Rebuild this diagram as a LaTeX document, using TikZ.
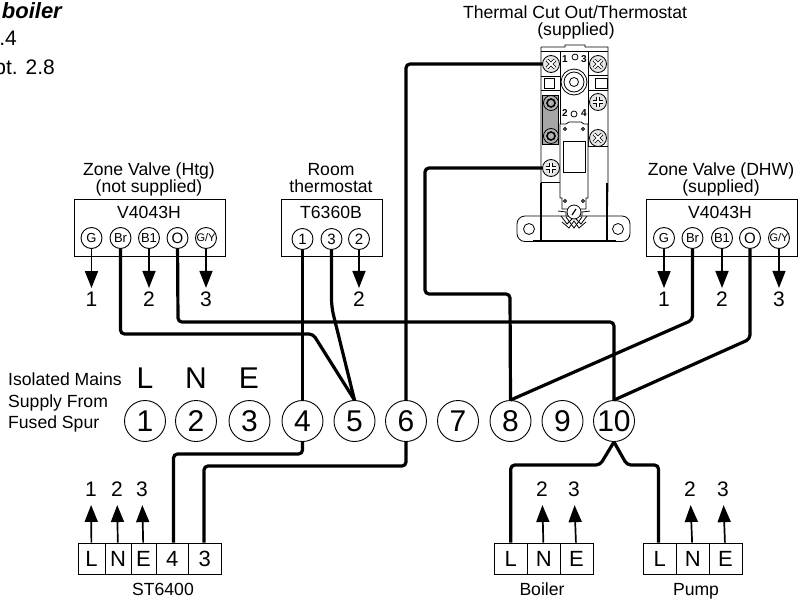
\documentclass[tikz,border=0pt]{standalone}
\usepackage{fontspec}
\setmainfont{Liberation Sans}
\usetikzlibrary{arrows.meta}
\tikzset{
  txt/.style={anchor=base,inner sep=0,font=\fontsize{17.6}{17.6}\selectfont},
  term/.style={circle,draw,line width=0.9,minimum size=41,inner sep=0,font=\fontsize{30}{30}\selectfont},
  pin/.style={circle,draw,fill=white,line width=0.9,minimum size=21,inner sep=0,font=\fontsize{13}{13}\selectfont},
  cell/.style={draw,line width=0.9,minimum height=31,inner sep=0,font=\fontsize{22}{22}\selectfont},
  box/.style={draw,line width=0.9,inner sep=0},
  num/.style={inner sep=3.5,font=\fontsize{21}{21}\selectfont},
  wire/.style={line width=3.2,rounded corners=4},
  lead/.style={line width=1.7,-{Triangle[length=17,width=13]}},
  part/.style={line width=0.8},
  heavy/.style={line width=2},
  screw/.style={circle,draw,fill=black!10,line width=0.8,minimum size=17,inner sep=0},
}
\begin{document}
\begin{tikzpicture}[x=1pt,y=-1pt]
  \useasboundingbox (0,0) rectangle (807,600);
  \node[anchor=base east,inner sep=0,font=\fontsize{22}{22}\selectfont\bfseries\itshape] (titleA) at (62,18) {boiler};
  \node[anchor=base east,inner sep=0,font=\fontsize{21}{21}\selectfont] (titleB) at (17,45) {.4};
  \node[anchor=base east,inner sep=0,font=\fontsize{21}{21}\selectfont] (titleC) at (55,74) {pt. 2.8};

  \node[txt] (cutNameA) at (575,18.5) {Thermal Cut Out/Thermostat};
  \node[txt] (cutNameB) at (576,35) {(supplied)};
  \node[txt] (htgNameA) at (149,175) {Zone Valve (Htg)};
  \node[txt] (htgNameB) at (149,192) {(not supplied)};
  \node[txt] (roomNameA) at (331,175) {Room};
  \node[txt] (roomNameB) at (331,192) {thermostat};
  \node[txt] (dhwNameA) at (721,175) {Zone Valve (DHW)};
  \node[txt] (dhwNameB) at (721,192) {(supplied)};

  \node[box,minimum width=151,minimum height=57] (htgBox) at (149.5,227.5) {};
  \node[box,minimum width=101,minimum height=57] (roomBox) at (331.5,227.5) {};
  \node[box,minimum width=151,minimum height=57] (dhwBox) at (722,227.5) {};
  \node[txt] (htgType) at (149,218) {V4043H};
  \node[txt] (roomType) at (331,218) {T6360B};
  \node[txt] (dhwType) at (720,218) {V4043H};

  \node[pin] (htgG) at (91.5,238) {G};
  \node[pin] (htgBr) at (120.5,238) {Br};
  \node[pin] (htgBa) at (149,238) {B1};
  \node[pin,font=\fontsize{15}{15}\selectfont] (htgO) at (177.5,238) {O};
  \node[pin,font=\fontsize{11}{11}\selectfont] (htgGY) at (206,238) {G/Y};
  \node[pin,font=\fontsize{15}{15}\selectfont] (roomA) at (302.5,239) {1};
  \node[pin,font=\fontsize{15}{15}\selectfont] (roomC) at (331.5,239) {3};
  \node[pin,font=\fontsize{15}{15}\selectfont] (roomB) at (359,239) {2};
  \node[pin] (dhwG) at (664,238) {G};
  \node[pin] (dhwBr) at (692.5,238) {Br};
  \node[pin] (dhwBa) at (722,238) {B1};
  \node[pin,font=\fontsize{15}{15}\selectfont] (dhwO) at (750,238) {O};
  \node[pin,font=\fontsize{11}{11}\selectfont] (dhwGY) at (779,238) {G/Y};

  \node[num] (htgNumA) at (91.5,299) {1};
  \node[num] (htgNumB) at (149,299) {2};
  \node[num] (htgNumC) at (206,299) {3};
  \node[num] (roomNum) at (359,299) {2};
  \node[num] (dhwNumA) at (664,299) {1};
  \node[num] (dhwNumB) at (722,299) {2};
  \node[num] (dhwNumC) at (779,299) {3};
  \draw[lead] (htgG) -- (htgNumA);
  \draw[lead] (htgBa) -- (htgNumB);
  \draw[lead] (htgGY) -- (htgNumC);
  \draw[lead] (roomB) -- (roomNum);
  \draw[lead] (dhwG) -- (dhwNumA);
  \draw[lead] (dhwBa) -- (dhwNumB);
  \draw[lead] (dhwGY) -- (dhwNumC);

  \node[txt,anchor=base west] (mainsA) at (8,385) {Isolated Mains};
  \node[txt,anchor=base west] (mainsB) at (8,407) {Supply From};
  \node[txt,anchor=base west] (mainsC) at (8,428) {Fused Spur};
  \node[inner sep=0,font=\fontsize{30}{30}\selectfont] (lineL) at (145,378) {L};
  \node[inner sep=0,font=\fontsize{30}{30}\selectfont] (lineN) at (196,378) {N};
  \node[inner sep=0,font=\fontsize{30}{30}\selectfont] (lineE) at (249,378) {E};

  \node[term] (t1) at (145,421) {1};
  \node[term] (t2) at (196,421) {2};
  \node[term] (t3) at (249.5,421) {3};
  \node[term] (t4) at (302.5,421) {4};
  \node[term] (t5) at (354.5,421) {5};
  \node[term] (t6) at (406,421) {6};
  \node[term] (t7) at (458,421) {7};
  \node[term] (t8) at (510.5,421) {8};
  \node[term] (t9) at (562.5,421) {9};
  \node[term] (t10) at (614,421) {10};

  \node[cell,minimum width=27] (stL) at (91.5,558.5) {L};
  \node[cell,minimum width=26] (stN) at (118,558.5) {N};
  \node[cell,minimum width=25] (stE) at (143.5,558.5) {E};
  \node[cell,minimum width=32.5] (stFour) at (172.25,558.5) {4};
  \node[cell,minimum width=32.5] (stThree) at (204.75,558.5) {3};
  \node[cell,minimum width=33.5] (boL) at (510.75,558.5) {L};
  \node[cell,minimum width=32.5] (boN) at (543.75,558.5) {N};
  \node[cell,minimum width=33] (boE) at (576.5,558.5) {E};
  \node[cell,minimum width=33.5] (puL) at (659.75,558.5) {L};
  \node[cell,minimum width=32.5] (puN) at (692.75,558.5) {N};
  \node[cell,minimum width=33] (puE) at (725.5,558.5) {E};
  \node[txt] (stName) at (163,595) {ST6400};
  \node[txt] (boName) at (542,595) {Boiler};
  \node[txt] (puName) at (696,595) {Pump};

  \node[num] (stNumL) at (91,489) {1};
  \node[num] (stNumN) at (117,489) {2};
  \node[num] (stNumE) at (142,489) {3};
  \node[num] (boNumN) at (542,489) {2};
  \node[num] (boNumE) at (574,489) {3};
  \node[num] (puNumN) at (690,489) {2};
  \node[num] (puNumE) at (723,489) {3};
  \draw[lead,shorten >=5] (stL) -- (stNumL);
  \draw[lead,shorten >=5] (stN) -- (stNumN);
  \draw[lead,shorten >=5] (stE) -- (stNumE);
  \draw[lead,shorten >=5] (boN) -- (boNumN);
  \draw[lead,shorten >=5] (boE) -- (boNumE);
  \draw[lead,shorten >=5] (puN) -- (puNumN);
  \draw[lead,shorten >=5] (puE) -- (puNumE);

  \draw[part,fill=white] (541,47) -- (565,47) -- (565,45) -- (585,45) -- (585,47) -- (608,47) -- (608,183) -- (607,241) -- (541,241) -- (541,47);
  \draw[part,rounded corners=8] (517,241.5) -- (517,216) -- (630,216) -- (630,241.5) -- cycle;
  \node[circle,draw,part,minimum size=11,inner sep=0] (holeL) at (529,229) {};
  \node[circle,draw,part,minimum size=11,inner sep=0] (holeR) at (618,229) {};
  \draw[part] (541,51) -- (608,51);
  \draw[part] (560,51) -- (560,182);
  \draw[part] (588,51) -- (588,146) (588,146) -- (608,146);
  \draw[part] (541,182) -- (560,182);
  \draw[part] (541,76) -- (560,76) (541,90) -- (560,90);
  \draw[part] (588,75) -- (608,75) (588,90) -- (608,90);
  \draw[part] (544,78) rectangle (554,88);
  \draw[part] (595,78) rectangle (607,88);
  \draw[part,fill=black!35] (542.5,95) rectangle (558,144);
  \node[screw,minimum size=15,fill=black!30] (strapA) at (551,103) {};
  \node[screw,minimum size=15,fill=black!30] (strapB) at (551,136) {};
  \node[circle,draw,line width=1.6,minimum size=8,inner sep=0] (strapC) at (551,103) {};
  \node[circle,draw,line width=1.6,minimum size=8,inner sep=0] (strapD) at (551,136) {};
  \node[screw] (cutA) at (551,64) {};
  \node[screw] (cutB) at (598,64) {};
  \node[screw] (cutC) at (598,102) {};
  \node[screw] (cutD) at (598,138) {};
  \node[screw] (cutE) at (551,168) {};
  \foreach \px/\py in {551/64,598/64,598/138} {
    \draw[line width=3.4] (\px-4,\py-4) -- (\px+4,\py+4) (\px-4,\py+4) -- (\px+4,\py-4);
    \draw[line width=1.8,white] (\px-4,\py-4) -- (\px+4,\py+4) (\px-4,\py+4) -- (\px+4,\py-4);
  }
  \foreach \px/\py in {598/102,551/168} {
    \draw[line width=3.4] (\px-5,\py) -- (\px+5,\py) (\px,\py-5) -- (\px,\py+5);
    \draw[line width=1.8,white] (\px-5,\py) -- (\px+5,\py) (\px,\py-5) -- (\px,\py+5);
  }
  \node[circle,draw,part,minimum size=26,inner sep=0] (resetA) at (574,82) {};
  \node[circle,draw,part,minimum size=20,inner sep=0] (resetB) at (574,82) {};
  \node[circle,draw,part,minimum size=9,inner sep=0] (resetC) at (574,82) {};
  \node[inner sep=0,font=\fontsize{10}{10}\selectfont\bfseries] (markA) at (565,59) {1};
  \node[inner sep=0,font=\fontsize{10}{10}\selectfont\bfseries] (markC) at (584,59) {3};
  \node[inner sep=0,font=\fontsize{10}{10}\selectfont\bfseries] (markB) at (565,113) {2};
  \node[inner sep=0,font=\fontsize{10}{10}\selectfont\bfseries] (markD) at (584,113) {4};
  \node[circle,draw,part,minimum size=6,inner sep=0] (holeTop) at (575,57) {};
  \node[circle,draw,part,minimum size=6,inner sep=0] (holeLow) at (574,114) {};
  \draw[part,fill=white] (560,124) -- (566,124) -- (569,122) -- (581,122) -- (584,124) -- (588,124) -- (588,198) -- (586,198) -- (586,209) -- (562,209) -- (562,198) -- (560,198) -- cycle;
  \draw[part] (563,141) rectangle (585,172);
  \foreach \px/\py in {565/129,583/129,565/201,583/201} {
    \draw[part] (\px,\py) circle (1.5);
  }
  \draw[part,fill=white] (558,211) -- (566,212) -- (566,216) -- (582,216) -- (582,212) -- (590,211);
  \draw[part] (561,216) -- (567,224) -- (574,217) -- (581,224) -- (587,216);
  \draw[part] (566,217) -- (574,228) -- (582,217);
  \draw[part] (562,222) -- (569,228) -- (574,221) -- (579,228) -- (586,222);
  \node[circle,draw,fill=white,part,minimum size=14,inner sep=0] (dial) at (574,212) {};
  \draw[line width=1.2] (572,215) -- (576,209);
  \draw[heavy] (541,183) -- (541,241) (607,183) -- (607,241);
  \draw[heavy] (533,241) -- (616,241);

  \draw[wire] (htgBr) -- (120.5,334) -- (313,334) -- (t5.north);
  \draw[wire] (htgO) -- (178,322) -- (614,322) -- (t10.north);
  \draw[wire] (roomA) -- (t4.north);
  \draw[wire,rounded corners=8] (roomC) -- (331.5,307) -- (t5.north);
  \draw[wire] (t6.north) -- (406,64) -- (cutA.west);
  \draw[wire] (cutE.west) -- (425,168) -- (425,294) -- (510,294) -- (t8.north);
  \draw[wire] (dhwBr) -- (692.5,320) -- (t8.north);
  \draw[wire] (dhwO) -- (750,339) -- (t10.north);
  \draw[wire] (t4.south) -- (302.5,454) -- (173.5,454) -- ([xshift=1.25]stFour.north);
  \draw[wire] (t6.south) -- (406,466) -- (204,466) -- ([xshift=-0.75]stThree.north);
  \draw[wire] (t10.south) -- (600,465) -- (510.75,465) -- (boL.north);
  \draw[wire] (t10.south) -- (627,465) -- (658.5,465) -- ([xshift=-1.25]puL.north);
\end{tikzpicture}
\end{document}
